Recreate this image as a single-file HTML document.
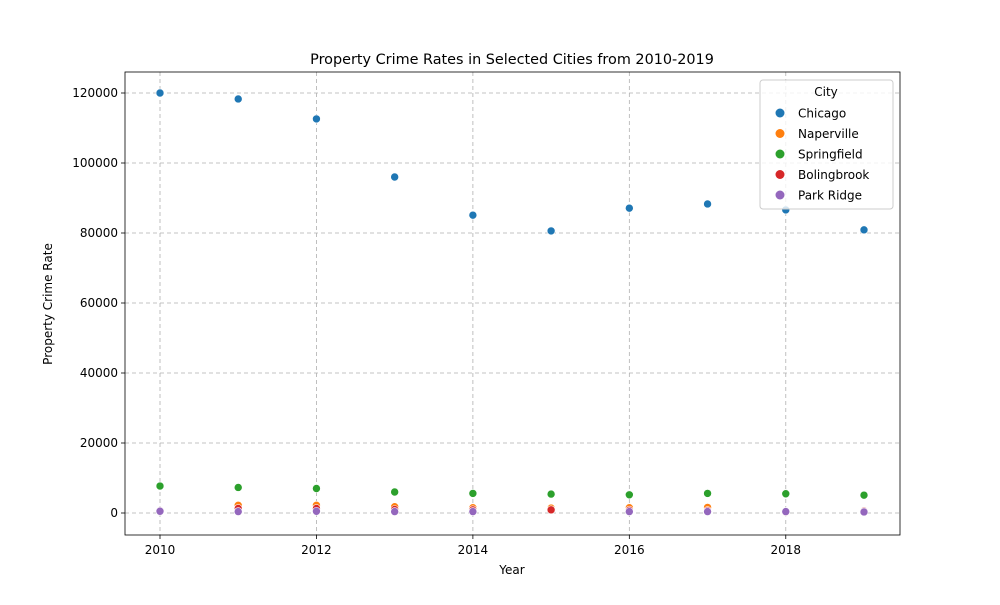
<!DOCTYPE html>
<html><head><meta charset="utf-8"><style>
body{margin:0;background:#fff;font-family:"Liberation Sans","DejaVu Sans",sans-serif}
</style></head><body>
<svg id="chart" width="1000" height="600" xmlns="http://www.w3.org/2000/svg" font-family="DejaVu Sans, Liberation Sans, sans-serif">
<rect width="1000" height="600" fill="#fff"/>
<g id="grid"></g>
<g id="marks"></g>
<rect x="125" y="72" width="775" height="463" fill="none" stroke="#000" stroke-width="0.8"/>
<g id="axes"></g>
<text x="512" y="64" text-anchor="middle" font-size="14.4">Property Crime Rates in Selected Cities from 2010-2019</text>
<text x="512" y="574" text-anchor="middle" font-size="12">Year</text>
<text x="52" y="304" text-anchor="middle" font-size="12" transform="rotate(-90 52 304)">Property Crime Rate</text>
<g id="legend"></g>
</svg>
<script>
const years=[2010,2011,2012,2013,2014,2015,2016,2017,2018,2019];
const cities=["Chicago","Naperville","Springfield","Bolingbrook","Park Ridge"];
const colors=["#1f77b4","#ff7f0e","#2ca02c","#d62728","#9467bd"];
const chicago=[120000,118300,112600,96000,85100,80600,87100,88300,86600,80900];
const naperville=[500,2200,2200,1800,1500,1400,1500,1600,200,400];
const springfield=[7700,7300,7000,6000,5600,5400,5200,5600,5500,5100];
const bolingbrook=[600,1300,1300,1000,900,900,800,700,300,500];
const parkRidge=[500,400,500,400,400,null,400,400,400,300];
const xTicks=[2010,2012,2014,2016,2018];
const yTicks=[0,20000,40000,60000,80000,100000,120000];
const series=[chicago,naperville,springfield,bolingbrook,parkRidge];
const NS="http://www.w3.org/2000/svg";
const xs=y=>160+(y-2010)*(864-160)/9;
const ys=v=>513-v*(513-93)/120000;
function mk(parent,tag,attrs){const e=document.createElementNS(NS,tag);for(const k in attrs)e.setAttribute(k,attrs[k]);document.getElementById(parent).appendChild(e);return e;}
xTicks.forEach(t=>{const x=xs(t);
 const g=mk('grid','line',{x1:x,x2:x,y1:72,y2:535,stroke:'#b0b0b0','stroke-dasharray':'4,3','stroke-width':0.8});
 
 
 const tk=mk('axes','line',{x1:x,x2:x,y1:535,y2:539,stroke:'#000','stroke-width':0.8});
 
 
 const l=mk('axes','text',{x:x,y:554,'text-anchor':'middle','font-size':12});l.textContent=t;
 
 
});
yTicks.forEach(t=>{const y=ys(t);
 const g=mk('grid','line',{x1:125,x2:900,y1:y,y2:y,stroke:'#b0b0b0','stroke-dasharray':'4,3','stroke-width':0.8});
 
 
 const tk=mk('axes','line',{x1:121,x2:125,y1:y,y2:y,stroke:'#000','stroke-width':0.8});
 
 
 const l=mk('axes','text',{x:118,y:y+4,'text-anchor':'end','font-size':12});l.textContent=t;
 
 
});
series.forEach((s,i)=>{s.forEach((v,j)=>{if(v==null)return;
 const c=mk('marks','circle',{cx:xs(years[j]),cy:ys(v),r:4,fill:colors[i],stroke:'#fff','stroke-width':0.6});
 
 
});});
const lb=mk('legend','rect',{x:760,y:80,width:133,height:129,rx:3,fill:'#fff','fill-opacity':0.8,stroke:'#ccc'});


const lt=mk('legend','text',{x:826,y:96,'text-anchor':'middle','font-size':12});lt.textContent='City';


cities.forEach((c,i)=>{const y=113+i*20.5;
 const d=mk('legend','circle',{cx:780,cy:y,r:4.5,fill:colors[i]});
 
 
 const t=mk('legend','text',{x:798,y:y+4.5,'font-size':12});t.textContent=c;
 
 
});
</script>
</body></html>
